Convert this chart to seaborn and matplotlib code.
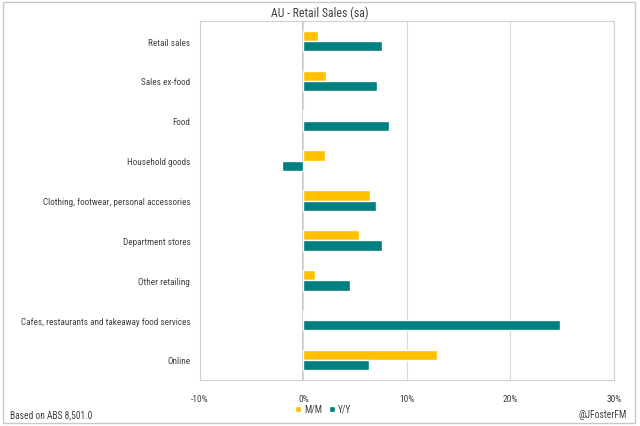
import pandas as pd
import matplotlib.pyplot as plt
import seaborn as sns
from matplotlib import font_manager
from matplotlib.patches import Rectangle
from matplotlib.ticker import FuncFormatter

# Data (percent)
categories = ["Retail sales", "Sales ex-food", "Food", "Household goods",
              "Clothing, footwear, personal accessories", "Department stores",
              "Other retailing", "Cafes, restaurants and takeaway food services",
              "Online"]
mm_values = [1.4, 2.2, 0.1, 2.1, 6.4, 5.4, 1.1, 0.0, 12.9]
yy_values = [7.6, 7.1, 8.3, -2.1, 7.0, 7.6, 4.5, 24.8, 6.3]
series_names = ["M/M", "Y/Y"]
colors = ["#FFC000", "#008080"]

df = pd.DataFrame({
    "Category": categories * 2,
    "Value": mm_values + yy_values,
    "Series": [series_names[0]] * len(categories) + [series_names[1]] * len(categories),
})

# pick a narrow-ish font if one is installed (original uses Calibri)
installed = {f.name for f in font_manager.fontManager.ttflist}
family = "Liberation Sans"
for name in ["Liberation Sans Narrow", "Roboto Condensed", "Open Sans Condensed", "Roboto"]:
    if name in installed:
        family = name
        break

sns.set_style("white")
plt.rcParams["font.family"] = [family, "DejaVu Sans"]
txt = "#404040"

fig = plt.figure(figsize=(6.4, 4.27), dpi=100)
ax = fig.add_axes([0.3125, 0.108, 0.6465, 0.840])

sns.barplot(data=df, x="Value", y="Category", hue="Series", order=categories,
            hue_order=series_names, palette=colors, width=0.52, orient="h",
            saturation=1, ax=ax)

ax.set_xlim(-10, 30)
ax.set_xticks([-10, 0, 10, 20, 30])
ax.xaxis.set_major_formatter(FuncFormatter(lambda v, p: f"{v:.0f}%"))
ax.grid(axis="x", color="#d9d9d9", linewidth=0.8)
ax.set_axisbelow(True)
ax.axvline(0, color="#bfbfbf", linewidth=1.2, zorder=0.5)
for s in ax.spines.values():
    s.set_color("#d0d0d0")
    s.set_linewidth(0.8)
ax.tick_params(axis="y", length=0, labelsize=6.3, colors=txt, pad=7)
ax.tick_params(axis="x", length=0, labelsize=6.8, colors=txt, pad=10)
ax.set_xlabel("")
ax.set_ylabel("")

title = fig.text(0.5, 0.970, "AU - Retail Sales (sa)", ha="center", va="center",
                 fontsize=8, color=txt)
left_note = fig.text(0.016, 0.028, "Based on ABS 8,501.0", ha="left", va="center",
                     fontsize=7, color=txt)
right_note = fig.text(0.980, 0.028, "@JFosterFM", ha="right", va="center",
                      fontsize=7, color=txt)


def fit(t, target_px):
    # scale a text's size so its rendered width matches the original
    r = fig.canvas.get_renderer()
    w = t.get_window_extent(r).width
    t.set_fontsize(t.get_fontsize() * target_px / w)


fig.canvas.draw()
fit(title, 97)
fit(left_note, 83)
fit(right_note, 48)
# size the category labels off the "Clothing..." label (~144 px in the original)
r = fig.canvas.get_renderer()
cl = ax.get_yticklabels()[4].get_window_extent(r).width
ysize = 6.3 * 146 / cl
ax.tick_params(axis="y", labelsize=ysize)

ax.get_legend().remove()
handles, labels = ax.get_legend_handles_labels()
fig.legend(handles, labels, loc="center", bbox_to_anchor=(0.505, 0.040), ncol=2,
           frameon=False, fontsize=left_note.get_fontsize(), handlelength=0.6,
           handleheight=0.6, columnspacing=0.8, handletextpad=0.3, labelcolor=txt)

fig.patches.append(Rectangle((0.004, 0.007), 0.988, 0.986, transform=fig.transFigure,
                             fill=False, edgecolor="#c8c8c8", linewidth=1))

fig.savefig("out.png", dpi=100)
